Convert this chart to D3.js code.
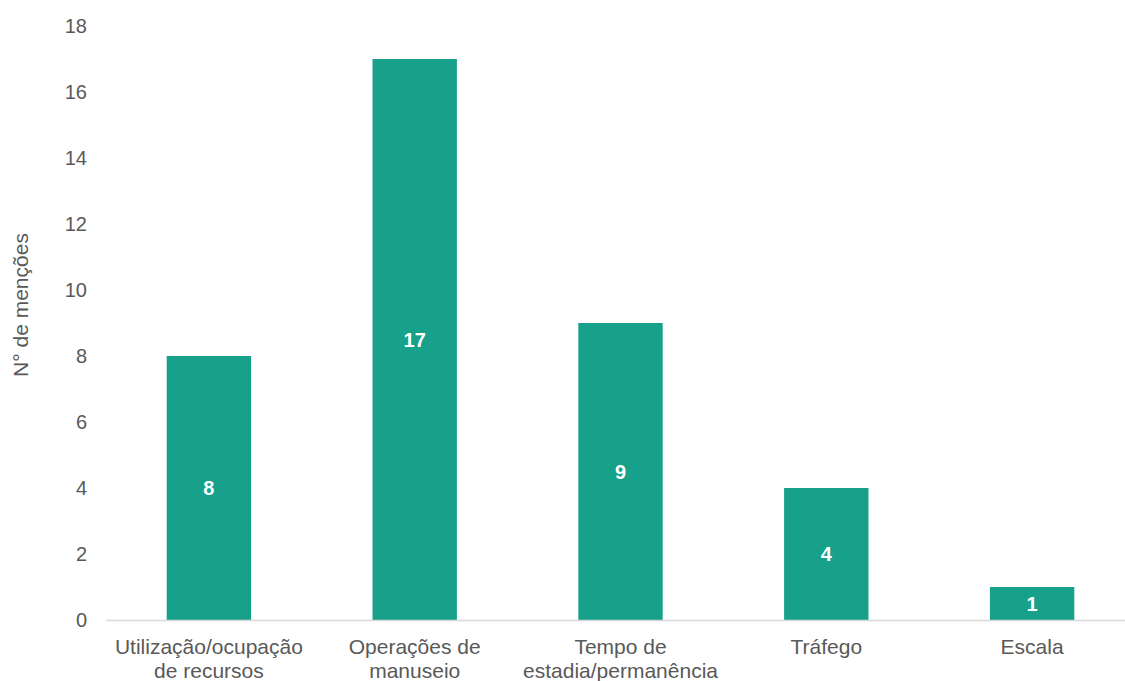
<!DOCTYPE html>
<html>
<head>
<meta charset="utf-8">
<script src="https://cdn.jsdelivr.net/npm/d3@7"></script>
<style>
  body { margin: 0; background: #fff; }
  svg { font-family: "Liberation Sans", Arial, sans-serif; }
</style>
</head>
<body>
<div id="chart"></div>
<script>
const categories = [
  ["Utilização/ocupação", "de recursos"],
  ["Operações de", "manuseio"],
  ["Tempo de", "estadia/permanência"],
  ["Tráfego"],
  ["Escala"]
];
const values = [8, 17, 9, 4, 1];
const yTicks = [0, 2, 4, 6, 8, 10, 12, 14, 16, 18];
const yTitle = "N° de menções";

const width = 1125;
const height = 681;
const plotLeft = 106, plotRight = 1135, plotTop = 26, plotBottom = 620;
const barColor = "#17a08a";
const textColor = "#595959";

const svg = d3.select("#chart").append("svg")
    .attr("width", width)
    .attr("height", height);

const x = d3.scaleBand()
    .domain(d3.range(values.length))
    .range([plotLeft, plotRight])
    .paddingInner(0.59)
    .paddingOuter(0.295);

const y = d3.scaleLinear()
    .domain([0, 18])
    .range([plotBottom, plotTop]);

// y tick labels
svg.append("g")
  .selectAll("text")
    .data(yTicks)
  .enter().append("text")
    .attr("x", 87)
    .attr("y", d => y(d))
    .attr("dy", "0.35em")
    .attr("text-anchor", "end")
    .attr("fill", textColor)
    .style("font-size", "20px")
    .text(d => d);

// bars
svg.append("g")
  .selectAll("rect")
    .data(values)
  .enter().append("rect")
    .attr("x", (d, i) => x(i))
    .attr("y", d => y(d))
    .attr("width", x.bandwidth())
    .attr("height", d => y(0) - y(d))
    .attr("fill", barColor);

// baseline
svg.append("line")
    .attr("x1", plotLeft)
    .attr("x2", plotRight)
    .attr("y1", y(0) + 0.5)
    .attr("y2", y(0) + 0.5)
    .attr("stroke", "#d9d9d9")
    .attr("stroke-width", 1.5);

// value labels
svg.append("g")
  .selectAll("text")
    .data(values)
  .enter().append("text")
    .attr("x", (d, i) => x(i) + x.bandwidth() / 2)
    .attr("y", d => (y(d) + y(0)) / 2)
    .attr("dy", "0.35em")
    .attr("text-anchor", "middle")
    .attr("fill", "#fff")
    .style("font-size", "20px")
    .style("font-weight", "bold")
    .text(d => d);

// category labels
const cat = svg.append("g")
  .selectAll("text")
    .data(categories)
  .enter().append("text")
    .attr("text-anchor", "middle")
    .attr("fill", textColor)
    .style("font-size", "21px")
    .attr("transform", (d, i) => "translate(" + (x(i) + x.bandwidth() / 2) + ",654)");
cat.selectAll("tspan")
    .data(d => d)
  .enter().append("tspan")
    .attr("x", 0)
    .attr("dy", (d, j) => j === 0 ? 0 : 24)
    .text(d => d);

// y title
svg.append("text")
    .attr("transform", "translate(28,305)rotate(-90)")
    .attr("text-anchor", "middle")
    .attr("fill", textColor)
    .style("font-size", "21px")
    .text(yTitle);
</script>
</body>
</html>
